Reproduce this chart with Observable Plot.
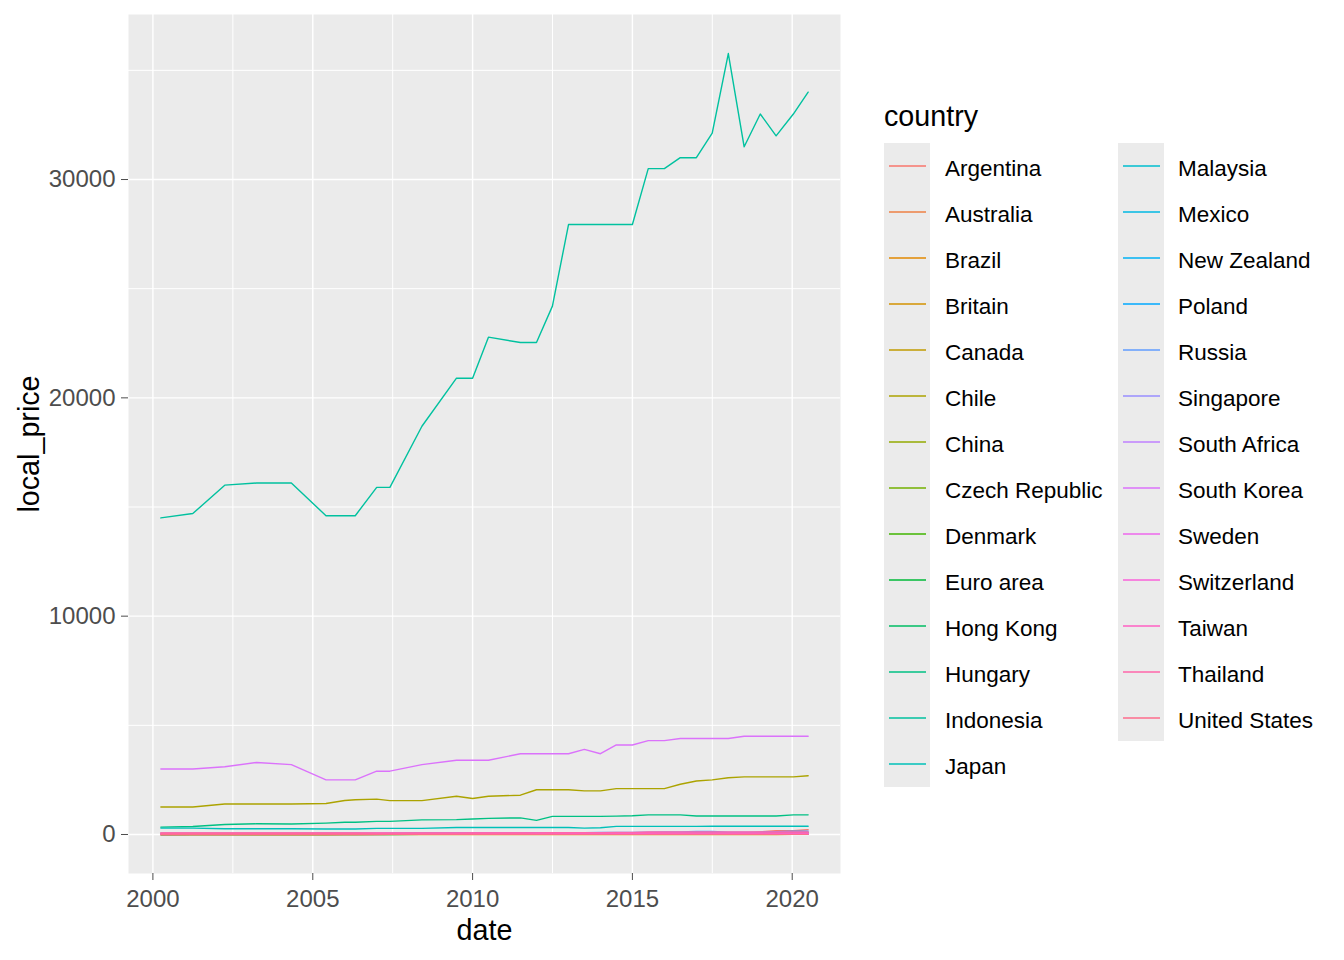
<!DOCTYPE html>
<html>
<head>
<meta charset="utf-8">
<script src="https://cdn.jsdelivr.net/npm/d3@7"></script>
<script src="https://cdn.jsdelivr.net/npm/@observablehq/plot@0.6"></script>
<style>
  body { margin: 0; background: #ffffff; }
  #wrap { position: relative; width: 1344px; height: 960px; font-family: "Liberation Sans", Arial, sans-serif; overflow: hidden; }
  #wrap > svg { position: absolute; left: 0; top: 0; }
</style>
</head>
<body>
<div id="wrap"></div>
<script>
// ---------------- data ----------------
const dates = ["2000-04-01","2001-04-01","2002-04-01","2003-04-01","2004-05-01","2005-06-01","2006-01-01","2006-05-01","2007-01-01","2007-06-01","2008-06-01","2009-07-01","2010-01-01","2010-07-01","2011-07-01","2012-01-01","2012-07-01","2013-01-01","2013-07-01","2014-01-01","2014-07-01","2015-01-01","2015-07-01","2016-01-01","2016-07-01","2017-01-01","2017-07-01","2018-01-01","2018-07-01","2019-01-01","2019-07-01","2020-01-14","2020-07-01"];

const countries = ["Argentina","Australia","Brazil","Britain","Canada","Chile","China","Czech Republic","Denmark","Euro area","Hong Kong","Hungary","Indonesia","Japan","Malaysia","Mexico","New Zealand","Poland","Russia","Singapore","South Africa","South Korea","Sweden","Switzerland","Taiwan","Thailand","United States"];

const argentina = [2.5,2.5,2.5,4.1,4.35,4.75,7,7,8.25,8.25,11,11.5,14,15,20,20,19,19,19,21,21,28,33,33,50,59,70,75,75,120,171,171,220];
const australia = [2.59,3,3,3,3,3.25,3.25,3.25,3.45,3.45,3.45,3.45,4.35,4.35,4.56,4.8,4.56,4.7,4.56,5.05,5.1,5.3,5.3,5.3,5.5,5.6,5.75,5.9,6.05,6.1,6.45,6.45,6.45];
const brazil = [2.95,3.6,3.6,4.55,4.55,5.9,6.4,6.4,6.9,6.9,7.5,8.03,8.2,8.71,9.5,10.25,10.08,11.25,11.25,11.25,13,13.5,13.5,13.5,13.5,16.5,16.9,16.9,16.9,16.9,19.9,19.9,19.9];
const britain = [1.9,1.99,1.99,1.99,1.88,1.88,1.94,1.94,1.99,1.99,2.29,2.29,2.29,2.29,2.39,2.49,2.69,2.69,2.69,2.69,2.89,2.89,2.89,2.89,2.89,2.99,3.19,3.19,3.19,3.19,3.19,3.39,3.39];
const canada = [2.85,3.33,3.33,3.2,3.19,3.19,3.52,3.52,3.63,3.88,4.09,4.16,4.17,4.17,4.73,4.73,5.41,5.41,5.53,5.63,5.64,5.7,5.85,5.84,5.84,5.97,5.97,6.55,6.55,6.77,6.77,6.77,6.88];
const chile = [1260,1260,1400,1400,1400,1420,1560,1590,1620,1550,1550,1750,1650,1750,1800,2050,2050,2050,2000,2000,2100,2100,2100,2100,2300,2450,2500,2600,2640,2640,2640,2640,2690];
const china = [9.9,9.9,10.5,9.9,10.4,10.5,10.5,10.5,11,11,12.5,12.5,12.5,13.2,14.7,15.4,15.65,16,16,16.6,16.9,17.2,17,17.6,18.6,19.6,19.8,20.4,20.9,20.9,21.5,21.5,21.7];
const czech = [54.37,56.28,56.57,56.28,59.3,56,59.05,59.05,52.1,52.9,66.1,65.94,67.92,67.6,69.3,70.3,70.45,70.33,70.45,70.45,70.45,70.45,70.45,75,75,75,75,75,75,75.5,85,85,85];
const denmark = [24.75,24.75,24.75,27.75,27.75,27.75,27.75,27.75,27.75,27.75,28,29.5,29.5,28.5,28.5,31.5,28.5,28.5,28.5,28.5,30,30,30,30,30,30,30,30,30,30,30,30,30];
const euroArea = [2.56,2.57,2.67,2.71,2.74,2.92,2.94,2.94,2.94,3.06,3.37,3.31,3.38,3.38,3.44,3.49,3.58,3.59,3.62,3.66,3.68,3.68,3.7,3.72,3.82,3.88,3.91,3.95,4.04,4.05,4.08,4.12,4.21];
const hongKong = [10.2,10.7,11.2,11.5,12,12,12,12,12,13.3,13.3,13.3,14.8,14.8,15.1,16.5,16.5,17,17,17.5,17.5,17.5,18.8,19.2,19.2,19.2,19.2,19.2,20,20,20,20.5,20.5];
const hungary = [339,364,459,490,480,520,560,560,600,600,670,680,710,740,760,645,830,830,830,830,840,860,900,900,900,850,850,850,850,850,850,900,900];
const indonesia = [14500,14700,16000,16100,16100,14600,14600,14600,15900,15900,18700,20900,20900,22780,22534,22534,24200,27939,27939,27939,27939,27939,30500,30500,31000,31000,32126,35770,31500,33000,32000,33000,34000];
const japan = [294,294,262,262,262,250,250,250,280,280,280,320,320,320,320,320,320,320,290,310,370,370,370,370,370,370,380,380,380,380,380,380,380];
const malaysia = [4.52,4.52,5.04,5.04,5.04,5.04,5.5,5.5,5.5,5.5,5.5,6.77,7.05,7.05,7.2,7.4,7.4,7.4,7.4,7.4,7.63,7.63,7.63,7.63,7.6,8,8.1,8.45,8.45,9.05,9.05,9.99,9.99];
const mexico = [20.9,21.9,21.9,23,24,28,29,29,29,29,32,33,32,32,37,37,37,37,37,42,42,49,49,49,49,49,49,52,52,54,50,50,50];
const newZealand = [3.4,3.6,3.95,3.95,4.45,4.45,4.45,4.45,4.6,4.6,4.9,4.9,5,5,5.1,5.1,5.1,5.2,5.5,5.6,5.6,5.9,5.9,5.9,5.9,5.9,6.1,6.1,6.2,6.2,6.6,6.6,6.6];
const poland = [5.5,5.9,5.9,6.3,6.45,6.5,6.5,6.5,6.9,6.9,7,7.6,7.6,7.6,8.63,9.1,9.1,9.1,9.1,9.2,9.2,9.2,9.6,9.6,9.6,9.6,10.1,10.1,10.1,10.5,10.5,10.5,11.5];
const russia = [39.5,35,39,41,42,49,48,48,52,59,62,67,71,71,75,81,75,72.88,87,89,89,89,107,114,114,137,137,110,110,110,130,150,150];
const singapore = [3.2,3.3,3.3,3.3,3.3,3.6,3.6,3.6,3.6,3.95,3.95,4.08,4.22,4.23,4.4,4.4,4.4,4.5,4.5,4.7,4.7,4.7,4.7,4.8,4.8,5.6,5.6,5.6,5.6,5.8,5.8,5.9,5.9];
const southAfrica = [9,9.7,9.7,13.95,13.95,13.95,13.95,13.95,15.5,15.5,16.9,17.75,17.95,18.5,19.45,19.95,19.95,19.95,24.5,24.5,25.5,25.5,25.5,28,28,28,28,30,31,31,31,31,33.5];
const southKorea = [3000,3000,3100,3300,3200,2500,2500,2500,2900,2900,3200,3400,3400,3400,3700,3700,3700,3700,3900,3700,4100,4100,4300,4300,4400,4400,4400,4400,4500,4500,4500,4500,4500];
const sweden = [24,24,26,30,30,31,33,33,32,33,38,39,39,48.4,48.4,41,41,48.4,40.7,40.7,40.7,40.7,45,45,45,45,48.97,51,51,52,52,52,52];
const switzerland = [5.9,6.3,6.3,6.3,6.3,6.3,6.3,6.3,6.3,6.3,6.5,6.5,6.5,6.5,6.5,6.5,6.5,6.5,6.5,6.5,6.16,6.5,6.5,6.5,6.5,6.5,6.5,6.5,6.5,6.5,6.5,6.5,6.5];
const taiwan = [70,70,70,70,70,75,75,75,75,75,75,75,75,75,75,75,75,75,79,79,79,79,79,69,69,69,69,69,69,69,72,72,72];
const thailand = [55,55,55,59,60,60,60,60,62,62,62,64,70,70,70,75,82,87,87,87,99,99,112,112,119,119,119,119,119,119,115,115,115];
const unitedStates = [2.24,2.54,2.49,2.71,2.9,3.06,3.15,3.1,3.22,3.41,3.57,3.57,3.58,3.73,4.07,4.2,4.33,4.37,4.56,4.62,4.8,4.79,4.79,4.93,5.04,5.06,5.3,5.28,5.51,5.58,5.74,5.67,5.71];

const seriesList = [argentina,australia,brazil,britain,canada,chile,china,czech,denmark,euroArea,hongKong,hungary,indonesia,japan,malaysia,mexico,newZealand,poland,russia,singapore,southAfrica,southKorea,sweden,switzerland,taiwan,thailand,unitedStates];

const xMajorYears = [2000, 2005, 2010, 2015, 2020];
const yMajor = [0, 10000, 20000, 30000];
const yMinor = [5000, 15000, 25000, 35000];

// ---------------- build table ----------------
const parse = d3.utcParse("%Y-%m-%d");
const rows = [];
countries.forEach((c, i) => {
  seriesList[i].forEach((v, j) => rows.push({country: c, date: parse(dates[j]), local_price: v}));
});

// ggplot2 default hue palette (R hcl, polar LUV, c=100, l=65)
function hclLuv(h, c, l) {
  const hr = h * Math.PI / 180;
  const U = c * Math.cos(hr), V = c * Math.sin(hr);
  const Xn = 95.047, Yn = 100.0, Zn = 108.883;
  const den = Xn + 15 * Yn + 3 * Zn;
  const un = 4 * Xn / den, vn = 9 * Yn / den;
  const Y = l > 8 ? Yn * Math.pow((l + 16) / 116, 3) : Yn * l / 903.3;
  const u = U / (13 * l) + un, v = V / (13 * l) + vn;
  const X = 9 * Y * u / (4 * v);
  const Z = 3 * Y / v - X / 3 - 5 * Y;
  const x = X / 100, y = Y / 100, z = Z / 100;
  const lin = [
    3.240479 * x - 1.537150 * y - 0.498535 * z,
    -0.969256 * x + 1.875992 * y + 0.041556 * z,
    0.055648 * x - 0.204043 * y + 1.057311 * z
  ];
  const g = lin.map(t => {
    let s = t <= 0.0031308 ? 12.92 * t : 1.055 * Math.pow(t, 1 / 2.4) - 0.055;
    s = Math.max(0, Math.min(1, s));
    return Math.round(s * 255);
  });
  return "#" + g.map(n => n.toString(16).padStart(2, "0")).join("");
}
const n = countries.length;
const palette = countries.map((_, i) => hclLuv(15 + i * 360 / n, 100, 65));

// scale domains (ggplot-like 5% expansion)
const allDates = rows.map(d => d.date);
const xMin = d3.min(allDates), xMax = d3.max(allDates);
const xSpan = xMax - xMin;
const xDomain = [new Date(+xMin - 0.05 * xSpan), new Date(+xMax + 0.05 * xSpan)];
const yExt = d3.extent(rows, d => d.local_price);
const ySpan = yExt[1] - yExt[0];
const yDomain = [yExt[0] - 0.05 * ySpan, yExt[1] + 0.05 * ySpan];

const xMajor = xMajorYears.map(y => new Date(Date.UTC(y, 0, 1)));
const xMinor = xMajor.slice(0, -1).map((d, i) => new Date((+d + +xMajor[i + 1]) / 2));

const FONT = '"Liberation Sans", Arial, sans-serif';

const chart = Plot.plot({
  width: 860,
  height: 960,
  marginLeft: 128,
  marginRight: 20,
  marginTop: 14,
  marginBottom: 87,
  style: { fontFamily: FONT, fontSize: "24px", background: "transparent", overflow: "visible" },
  x: { type: "utc", domain: xDomain },
  y: { domain: yDomain },
  color: { domain: countries, range: palette },
  marks: [
    Plot.frame({ fill: "#EBEBEB", stroke: "none" }),
    Plot.gridX(xMinor, { stroke: "#ffffff", strokeOpacity: 1, strokeWidth: 1.0 }),
    Plot.gridY(yMinor, { stroke: "#ffffff", strokeOpacity: 1, strokeWidth: 1.0 }),
    Plot.gridX(xMajor, { stroke: "#ffffff", strokeOpacity: 1, strokeWidth: 1.4 }),
    Plot.gridY(yMajor, { stroke: "#ffffff", strokeOpacity: 1, strokeWidth: 1.4 }),
    Plot.line(rows, { x: "date", y: "local_price", z: "country", stroke: "country", strokeWidth: 1.4 }),
    Plot.axisX(xMajor, { tickSize: 7, tickPadding: 9, tickFormat: d3.utcFormat("%Y"), color: "#4D4D4D", label: null, fontSize: 24 }),
    Plot.axisY(yMajor, { tickSize: 7, tickPadding: 6, tickFormat: d => String(d), color: "#4D4D4D", label: null, fontSize: 24 }),
    Plot.text(["date"], { frameAnchor: "bottom", lineAnchor: "middle", textAnchor: "middle", dy: 57, fontSize: 28.7, fill: "#000000" }),
    Plot.text(["local_price"], { frameAnchor: "left", lineAnchor: "middle", textAnchor: "middle", dx: -99, rotate: -90, fontSize: 28.7, fill: "#000000" })
  ]
});
const wrap = document.getElementById("wrap");
wrap.appendChild(chart);

// ---------------- legend ----------------
const NS = "http://www.w3.org/2000/svg";
const leg = document.createElementNS(NS, "svg");
leg.setAttribute("width", 1344);
leg.setAttribute("height", 960);
leg.setAttribute("font-family", FONT);
wrap.appendChild(leg);
function el(tag, attrs, text) {
  const e = document.createElementNS(NS, tag);
  for (const k in attrs) e.setAttribute(k, attrs[k]);
  if (text != null) e.textContent = text;
  leg.appendChild(e);
  return e;
}
el("text", { x: 884, y: 126, "font-size": 28.7, fill: "#000" }, "country");
const perCol = 14, keyH = 46, top0 = 143;
const cols = [ { x: 884, lx: 945 }, { x: 1118, lx: 1178 } ];
cols.forEach((col, ci) => {
  const items = countries.slice(ci * perCol, (ci + 1) * perCol);
  el("rect", { x: col.x, y: top0, width: 46, height: items.length * keyH, fill: "#EBEBEB" });
  items.forEach((c, i) => {
    const cy = top0 + keyH * i + keyH / 2;
    el("line", { x1: col.x + 5, x2: col.x + 42, y1: cy, y2: cy, stroke: palette[ci * perCol + i], "stroke-width": 1.4 });
    el("text", { x: col.lx, y: cy + 9.5, "font-size": 22.5, fill: "#000" }, c);
  });
});
</script>
</body>
</html>
